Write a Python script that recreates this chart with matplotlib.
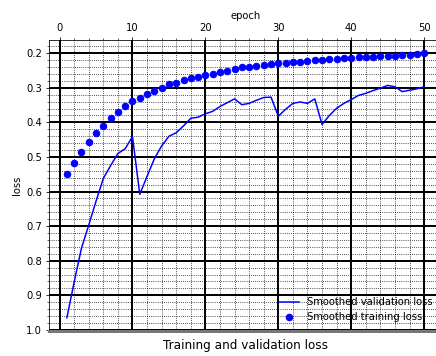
import matplotlib
matplotlib.use('Agg')
import matplotlib.pyplot as plt
from matplotlib.ticker import MultipleLocator

epochs = list(range(1, 51))

smooth_train = [0.550, 0.516, 0.486, 0.457, 0.432, 0.409, 0.388, 0.369, 0.353, 0.339,
                0.330, 0.319, 0.308, 0.300, 0.290, 0.285, 0.278, 0.272, 0.268, 0.263,
                0.259, 0.254, 0.250, 0.245, 0.241, 0.239, 0.236, 0.234, 0.231, 0.228,
                0.228, 0.226, 0.224, 0.222, 0.221, 0.220, 0.218, 0.216, 0.215, 0.214,
                0.212, 0.212, 0.210, 0.209, 0.208, 0.207, 0.206, 0.204, 0.203, 0.200]

smooth_val = [0.965, 0.862, 0.764, 0.697, 0.628, 0.562, 0.525, 0.490, 0.476, 0.441,
              0.608, 0.556, 0.505, 0.468, 0.440, 0.430, 0.410, 0.388, 0.385, 0.375,
              0.368, 0.354, 0.343, 0.332, 0.349, 0.345, 0.336, 0.328, 0.327, 0.382,
              0.362, 0.345, 0.341, 0.345, 0.332, 0.406, 0.380, 0.359, 0.345, 0.334,
              0.322, 0.316, 0.308, 0.301, 0.293, 0.297, 0.311, 0.307, 0.303, 0.297]

fig = plt.figure(figsize=(436/72, 356/72), dpi=72)
ax = fig.add_axes([49/436, 25/356, 393/436, 291/356])

l_train, = ax.plot(epochs, smooth_train, 'o', color='#0000ff', markersize=6.5,
                   label='Smoothed training loss')
l_val, = ax.plot(epochs, smooth_val, '-', color='#0000ff', linewidth=1.5,
                 label='Smoothed validation loss')

ax.invert_yaxis()
ax.xaxis.set_major_locator(MultipleLocator(10))
ax.xaxis.set_minor_locator(MultipleLocator(2))
ax.yaxis.set_major_locator(MultipleLocator(0.1))
ax.yaxis.set_minor_locator(MultipleLocator(0.02))
ax.yaxis.set_major_formatter(matplotlib.ticker.FormatStrFormatter('%.1f'))
ax.grid(which='major', color='black', linewidth=2)
ax.grid(which='minor', color='black', linestyle=':', linewidth=0.8)
ax.set_axisbelow(True)

ax.xaxis.tick_top()
ax.xaxis.set_label_position('top')
ax.tick_params(labelsize=10)
ax.set_xlabel('epoch', fontsize=10)
ax.set_ylabel('loss', fontsize=10)
ax.spines['bottom'].set_color('#777777')
ax.spines['bottom'].set_linewidth(3)

ax.legend(handles=[l_val, l_train], loc='lower right', frameon=False, fontsize=10)
fig.text(0.5625, 0.03, 'Training and validation loss', ha='center', va='center', fontsize=12)

fig.savefig('out.png', dpi=72)
